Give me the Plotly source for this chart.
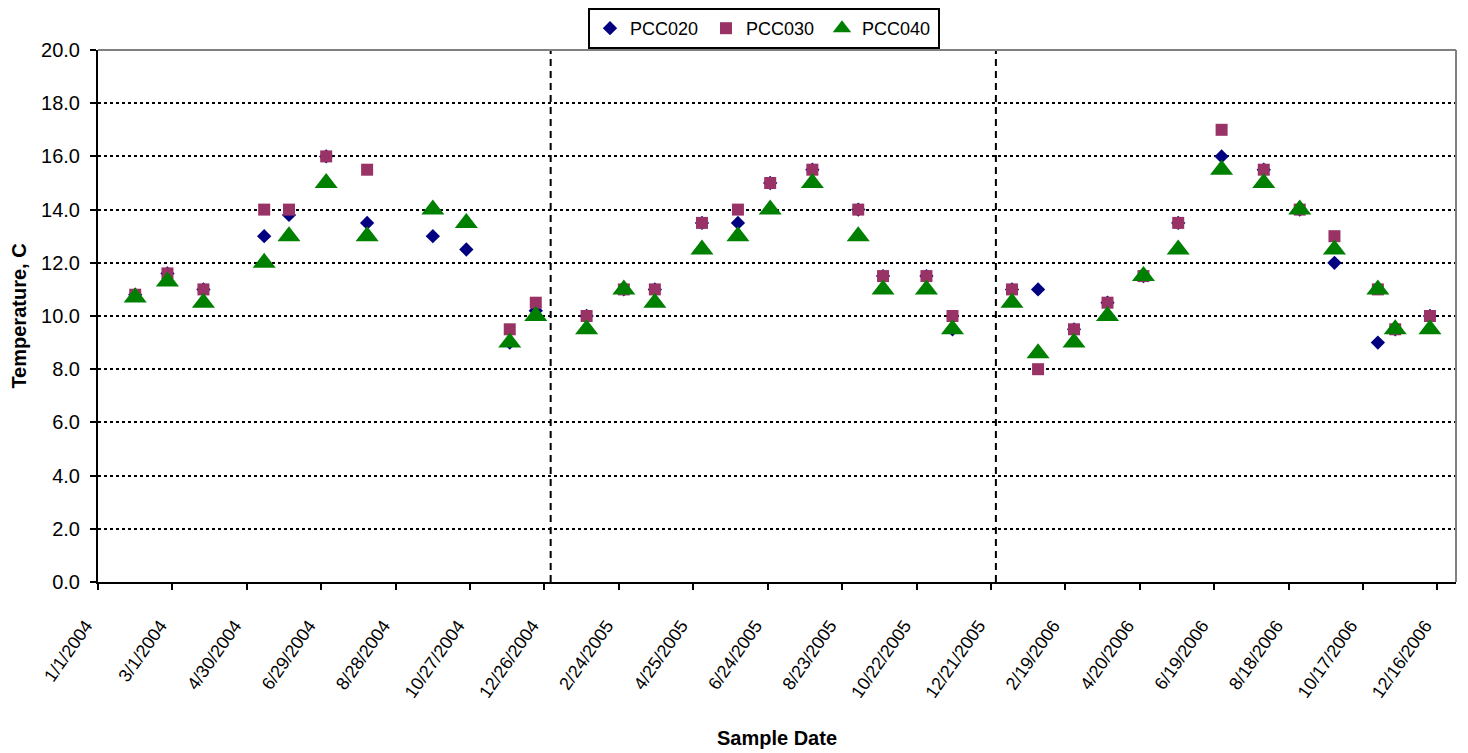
import plotly.graph_objects as go

# ---- data ----
sample_dates = [
    "2004-01-31", "2004-02-26", "2004-03-26", "2004-05-14", "2004-06-03", "2004-07-03",
    "2004-08-05", "2004-09-27", "2004-10-24", "2004-11-28", "2004-12-19",
    "2005-01-29", "2005-02-28", "2005-03-25", "2005-05-02", "2005-05-31", "2005-06-26",
    "2005-07-30", "2005-09-05", "2005-09-25", "2005-10-30", "2005-11-20",
    "2006-01-07", "2006-01-28", "2006-02-26", "2006-03-25", "2006-04-23", "2006-05-21",
    "2006-06-25", "2006-07-29", "2006-08-27", "2006-09-24", "2006-10-29", "2006-11-12",
    "2006-12-10",
]

pcc020 = [10.8, 11.6, 11.0, 13.0, 13.8, 16.0, 13.5, 13.0, 12.5, 9.0, 10.2,
          10.0, 11.0, 11.0, 13.5, 13.5, 15.0, 15.5, 14.0, 11.5, 11.5, 9.5,
          11.0, 11.0, 9.5, 10.5, 11.5, 13.5, 16.0, 15.5, 14.0, 12.0, 9.0, 9.5, 10.0]

pcc030 = [10.8, 11.6, 11.0, 14.0, 14.0, 16.0, 15.5, None, None, 9.5, 10.5,
          10.0, 11.0, 11.0, 13.5, 14.0, 15.0, 15.5, 14.0, 11.5, 11.5, 10.0,
          11.0, 8.0, 9.5, 10.5, 11.5, 13.5, 17.0, 15.5, 14.0, 13.0, 11.0, 9.5, 10.0]

pcc040 = [10.7, 11.3, 10.5, 12.0, 13.0, 15.0, 13.0, 14.0, 13.5, 9.0, 10.0,
          9.5, 11.0, 10.5, 12.5, 13.0, 14.0, 15.0, 13.0, 11.0, 11.0, 9.5,
          10.5, 8.6, 9.0, 10.0, 11.5, 12.5, 15.5, 15.0, 14.0, 12.5, 11.0, 9.5, 9.5]

x_tick_dates = [
    "2004-01-01", "2004-03-01", "2004-04-30", "2004-06-29", "2004-08-28", "2004-10-27",
    "2004-12-26", "2005-02-24", "2005-04-25", "2005-06-24", "2005-08-23", "2005-10-22",
    "2005-12-21", "2006-02-19", "2006-04-20", "2006-06-19", "2006-08-18", "2006-10-17",
    "2006-12-16",
]
x_range = ["2004-01-01", "2006-12-31"]
year_dividers = ["2004-12-31", "2005-12-25"]

FONT = "Arial, Liberation Sans, sans-serif"

# the page body adds an 8px offset, so the figure is sized to fit the window
W, H = 1460, 745
ML, MR, MT, MB = 90, 12, 42, 171
PW, PH = W - ML - MR, H - MT - MB

fig = go.Figure()
fig.add_trace(go.Scatter(x=sample_dates, y=pcc020, mode="markers", name="PCC020",
                         marker=dict(symbol="diamond", color="#000080", size=11,
                                     line=dict(width=0))))
fig.add_trace(go.Scatter(x=sample_dates, y=pcc030, mode="markers", name="PCC030",
                         marker=dict(symbol="square", color="#993366", size=12,
                                     line=dict(width=0))))
fig.add_trace(go.Scatter(x=sample_dates, y=pcc040, mode="markers", name="PCC040",
                         marker=dict(symbol="triangle-up", color="#008000", size=20,
                                     line=dict(width=0))))

shapes = []
for d in year_dividers:
    shapes.append(dict(type="line", xref="x", yref="paper", x0=d, x1=d, y0=0, y1=1,
                       line=dict(color="black", width=2, dash="7px,5px")))
shapes.append(dict(type="line", xref="paper", yref="paper", x0=0, x1=1, y0=1, y1=1,
                   line=dict(color="#808080", width=2)))
shapes.append(dict(type="line", xref="paper", yref="paper", x0=1, x1=1, y0=0, y1=1,
                   line=dict(color="#808080", width=2)))

fig.update_layout(
    width=W, height=H,
    margin=dict(l=ML, r=MR, t=MT, b=MB, autoexpand=False),
    paper_bgcolor="white", plot_bgcolor="white",
    font=dict(family=FONT, color="black"),
    showlegend=True,
    legend=dict(orientation="h",
                x=(580 - ML) / PW, xanchor="left",
                y=1 + MT / PH, yanchor="top",
                bordercolor="black", borderwidth=2, bgcolor="white",
                entrywidth=71, entrywidthmode="pixels",
                font=dict(family=FONT, size=18, color="black")),
    shapes=shapes,
    xaxis=dict(
        type="date", range=x_range, tickmode="array", tickvals=x_tick_dates,
        tickformat="%-m/%-d/%Y", tickangle=-55, automargin=False,
        ticks="outside", ticklen=6, tickwidth=2, tickcolor="black",
        ticklabelstandoff=18, ticklabelshift=-12,
        showline=True, linecolor="black", linewidth=2,
        showgrid=False, zeroline=False,
        tickfont=dict(family=FONT, size=18, color="black"),
        title=dict(text="<b>Sample Date</b>", standoff=30,
                   font=dict(family=FONT, size=20, color="black")),
    ),
    yaxis=dict(
        range=[0, 20], tick0=0, dtick=2, tickformat=".1f", automargin=False,
        ticks="outside", ticklen=6, tickwidth=2, tickcolor="black",
        showline=True, linecolor="black", linewidth=2,
        showgrid=True, gridcolor="black", griddash="dot", gridwidth=1.5,
        zeroline=False, ticklabelstandoff=6,
        tickfont=dict(family=FONT, size=20, color="black"),
        title=dict(text="<b>Temperature, C</b>", standoff=12,
                   font=dict(family=FONT, size=20, color="black")),
    ),
)

fig.write_html("out.html")
